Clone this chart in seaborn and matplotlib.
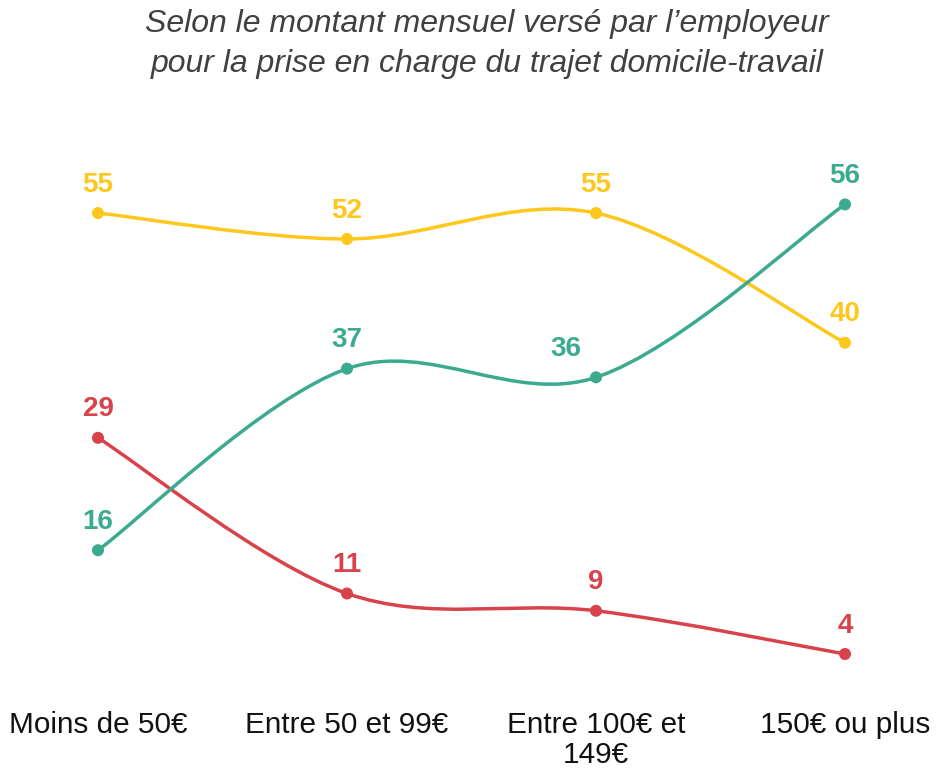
import numpy as np
import pandas as pd
import seaborn as sns
import matplotlib.pyplot as plt
from matplotlib.path import Path
from matplotlib.patches import PathPatch

categories = ["Moins de 50€", "Entre 50 et 99€", "Entre 100€ et\n149€", "150€ ou plus"]
serie_jaune = [55, 52, 55, 40]
serie_verte = [16, 37, 36, 56]
serie_rouge = [29, 11, 9, 4]

couleurs = {"jaune": "#FDC71C", "verte": "#3BAA8F", "rouge": "#D8424A"}

df = pd.DataFrame({
    "x": list(range(4)) * 3,
    "valeur": serie_jaune + serie_verte + serie_rouge,
    "serie": ["jaune"] * 4 + ["verte"] * 4 + ["rouge"] * 4,
})

sns.set_theme(style="white")
plt.rcParams["font.family"] = ["Liberation Sans", "DejaVu Sans"]

fig = plt.figure(figsize=(9.36, 7.71), dpi=100)
ax = fig.add_axes([98 / 936, (771 - 700) / 771, (845 - 98) / 936, (700 - 204.4) / 771])


def courbe_lissee(xs, ys):
    # bezier type catmull-rom, comme le lissage d'Excel
    pts = np.column_stack([xs, ys]).astype(float)
    ext = np.vstack([pts[0], pts, pts[-1]])
    verts = [pts[0]]
    codes = [Path.MOVETO]
    for i in range(len(pts) - 1):
        p0, p1, p2, p3 = ext[i], ext[i + 1], ext[i + 2], ext[i + 3]
        verts += [p1 + (p2 - p0) / 6, p2 - (p3 - p1) / 6, p2]
        codes += [Path.CURVE4] * 3
    return Path(verts, codes)


for nom, sub in df.groupby("serie"):
    patch = PathPatch(courbe_lissee(sub["x"], sub["valeur"]), facecolor="none",
                      edgecolor=couleurs[nom], lw=2.5, clip_on=False, zorder=2)
    ax.add_patch(patch)

sns.scatterplot(data=df, x="x", y="valeur", hue="serie", palette=couleurs,
                s=75, edgecolor="none", legend=False, ax=ax, clip_on=False, zorder=3)

for _, r in df.iterrows():
    dx = -22 if (r["serie"] == "verte" and r["valeur"] == 36) else 0
    ax.annotate(f"{r['valeur']}", (r["x"], r["valeur"]), xytext=(dx, 20.5),
                textcoords="offset points", ha="center", va="center",
                fontsize=20, fontweight="bold", color=couleurs[r["serie"]])

ax.set_xlim(0, 3)
ax.set_ylim(4 - (700 - 654) / 8.647, 56)
ax.set_xticks(range(4))
ax.set_xticklabels(categories, fontsize=21.4, color="#111111", linespacing=1.1)
ax.tick_params(axis="x", length=0, pad=8)
ax.set_yticks([])
ax.set_xlabel("")
ax.set_ylabel("")
sns.despine(ax=ax, left=True, bottom=True)

fig.text(487 / 936, 1 - 44 / 771,
         "Selon le montant mensuel versé par l’employeur\npour la prise en charge du trajet domicile-travail",
         ha="center", va="center", fontsize=23, style="italic", color="#404040", linespacing=1.45)

fig.savefig("out.png", dpi=100)
